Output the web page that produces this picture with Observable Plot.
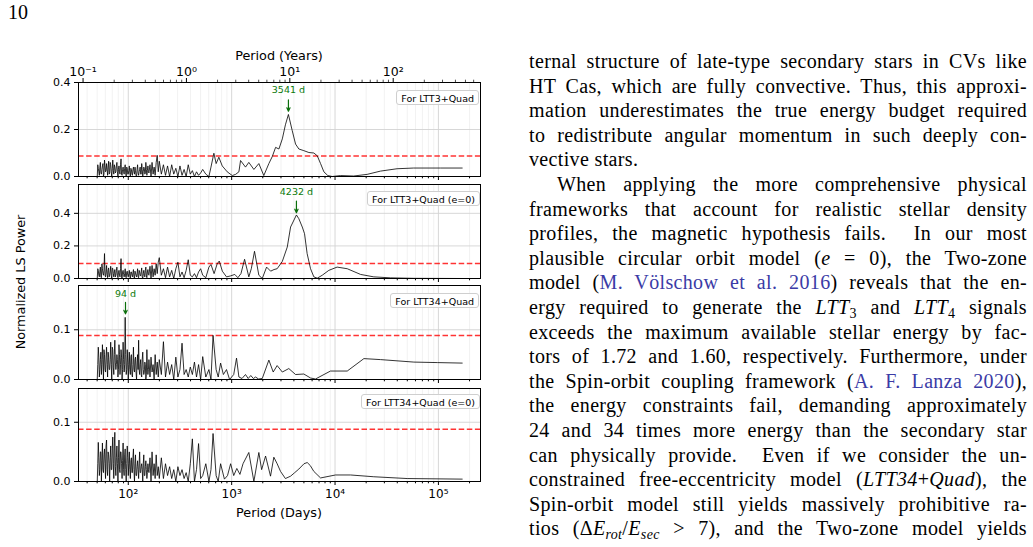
<!DOCTYPE html>
<html><head><meta charset="utf-8">
<script src="https://cdn.jsdelivr.net/npm/d3@7"></script>
<script src="https://cdn.jsdelivr.net/npm/@observablehq/plot@0.6"></script>
<style>
body{margin:0;width:1033px;height:547px;overflow:hidden;background:#fff;position:relative;font-family:"DejaVu Sans",sans-serif;color:#000;}
.panel{position:absolute;left:0;}
.lab{position:absolute;font-family:"DejaVu Sans";font-size:12.8px;white-space:nowrap;}
.leg{position:absolute;font-family:"DejaVu Sans";font-size:9.5px;border:1px solid #cfcfcf;border-radius:3px;background:rgba(255,255,255,0.85);padding:0 4px;height:15px;line-height:15px;white-space:nowrap;box-sizing:border-box;}
#pagenum{position:absolute;left:8px;top:1px;font-family:"Liberation Serif",serif;font-size:20px;}
#text{position:absolute;left:529px;top:49px;width:498px;font-family:"Liberation Serif",serif;font-size:20px;letter-spacing:0.35px;line-height:24.6px;}
#text .l{text-align:justify;text-align-last:justify;white-space:nowrap;height:24.6px;}
#text .last{text-align-last:left;}
#text .ind{padding-left:28px;}
#text a{color:#3b3ba6;text-decoration:none;}
#text sub{font-size:70%;vertical-align:-0.25em;line-height:0;}
</style>
</head><body>
<div id="pagenum">10</div>
<div id="chart"></div>
<div id="text">
<div class="l">ternal structure of late-type secondary stars in CVs like</div>
<div class="l">HT Cas, which are fully convective. Thus, this approxi-</div>
<div class="l">mation underestimates the true energy budget required</div>
<div class="l">to redistribute angular momentum in such deeply con-</div>
<div class="l last">vective stars.</div>
<div class="l ind">When applying the more comprehensive physical</div>
<div class="l">frameworks that account for realistic stellar density</div>
<div class="l">profiles, the magnetic hypothesis fails.&nbsp; In our most</div>
<div class="l">plausible circular orbit model (<i>e</i> = 0), the Two-zone</div>
<div class="l">model (<a>M. Völschow et al. 2016</a>) reveals that the en-</div>
<div class="l">ergy required to generate the <i>LTT</i><sub>3</sub> and <i>LTT</i><sub>4</sub> signals</div>
<div class="l">exceeds the maximum available stellar energy by fac-</div>
<div class="l">tors of 1.72 and 1.60, respectively. Furthermore, under</div>
<div class="l">the Spin-orbit coupling framework (<a>A. F. Lanza 2020</a>),</div>
<div class="l">the energy constraints fail, demanding approximately</div>
<div class="l">24 and 34 times more energy than the secondary star</div>
<div class="l">can physically provide.&nbsp; Even if we consider the un-</div>
<div class="l">constrained free-eccentricity model (<i>LTT34</i>+<i>Quad</i>), the</div>
<div class="l">Spin-orbit model still yields massively prohibitive ra-</div>
<div class="l">tios (Δ<i>E</i><sub><i>rot</i></sub>/<i>E</i><sub><i>sec</i></sub> &gt; 7), and the Two-zone model yields</div>
</div>
<script>
// ---- data (period given as log10 of days) ----
const noiseLogP = [1.70,1.71,1.72,1.73,1.74,1.75,1.76,1.77,1.78,1.79,
  1.80,1.81,1.82,1.83,1.84,1.85,1.86,1.87,1.88,1.89,
  1.90,1.91,1.92,1.93,1.94,1.95,1.96,1.97,1.98,1.99,
  2.00,2.01,2.02,2.03,2.04,2.05,2.06,2.07,2.08,2.09,
  2.10,2.11,2.12,2.13,2.14,2.15,2.16,2.17,2.18,2.19,
  2.20,2.21,2.22,2.23,2.24,2.25,2.26,2.27,2.28,2.29,
  2.30,
  2.32,2.34,2.36,2.38,2.40,2.42,2.44,2.46,2.48,2.50,
  2.52,2.54,2.56,2.58,2.60,2.62,2.64,2.66,2.68,2.70];
const noiseMidLogP = [1.705,1.715,1.725,1.735,1.745,1.755,1.765,1.775,1.785,1.795,
  1.805,1.815,1.825,1.835,1.845,1.855,1.865,1.875,1.885,1.895,
  1.905,1.915,1.925,1.935,1.945,1.955,1.965,1.975,1.985,1.995,
  2.005,2.015,2.025,2.035,2.045,2.055,2.065,2.075,2.085,2.095,
  2.105,2.115,2.125,2.135,2.145,2.155,2.165,2.175,2.185,2.195];

const p1Noise = [0.0,0.035,0.005,0.06,0.01,0.045,0.0,0.07,0.02,0.055,
  0.005,0.065,0.015,0.05,0.0,0.07,0.01,0.04,0.02,0.06,
  0.0,0.045,0.01,0.075,0.005,0.04,0.01,0.05,0.0,0.035,
  0.01,0.045,0.0,0.03,0.005,0.04,0.01,0.025,0.0,0.05,
  0.005,0.03,0.01,0.055,0.0,0.04,0.01,0.06,0.005,0.045,
  0.015,0.05,0.0,0.06,0.01,0.04,0.005,0.06,0.09,0.02,
  0.065,
  0.01,0.05,0.005,0.045,0.0,0.05,0.01,0.035,0.0,0.045,
  0.005,0.03,0.0,0.05,0.01,0.025,0.0,0.02,0.005,0.015];
const p1Mid = [0.05,0.02,0.04,0.015,0.03,0.055,0.01,0.045,0.025,0.03,
  0.04,0.01,0.06,0.02,0.035,0.025,0.05,0.015,0.045,0.02,
  0.03,0.02,0.05,0.01,0.03,0.02,0.035,0.015,0.04,0.01,
  0.025,0.015,0.035,0.01,0.03,0.02,0.04,0.005,0.03,0.015,
  0.02,0.04,0.01,0.03,0.02,0.035,0.015,0.03,0.025,0.02];
const p1LogP = [2.72,2.75,2.78,2.80,2.828,2.85,2.876,2.909,2.957,3.006,3.038,3.07,3.086,3.134,3.166,3.215,3.263,3.311,3.36,3.393,3.425,3.457,3.49,3.52,3.549,3.586,3.618,3.65,3.698,3.747,3.795,3.828,3.86,3.892,3.93,3.973,4.053,4.18,4.31,4.44,4.6,4.76,5.02,5.23];
const p1Pow = [0.03,0.01,0.0,0.04,0.099,0.055,0.082,0.045,0.02,0.004,0.009,0.02,0.068,0.04,0.06,0.03,0.055,0.004,0.055,0.085,0.124,0.117,0.16,0.22,0.264,0.195,0.138,0.117,0.11,0.102,0.10,0.088,0.055,0.02,0.004,0.0,0.004,0.002,0.009,0.023,0.033,0.036,0.036,0.036];

const p2Noise = [0.0,0.05,0.01,0.07,0.005,0.06,0.02,0.153,0.01,0.08,
  0.005,0.065,0.02,0.075,0.0,0.06,0.01,0.055,0.02,0.07,
  0.005,0.05,0.01,0.122,0.0,0.05,0.01,0.06,0.005,0.045,
  0.01,0.05,0.0,0.04,0.01,0.055,0.0,0.035,0.01,0.06,
  0.005,0.04,0.015,0.065,0.0,0.05,0.01,0.07,0.005,0.055,
  0.02,0.075,0.0,0.08,0.01,0.06,0.02,0.09,0.03,0.1,
  0.128,
  0.02,0.06,0.005,0.07,0.01,0.05,0.0,0.06,0.1,0.01,
  0.04,0.005,0.05,0.115,0.02,0.01,0.03,0.005,0.04,0.06];
const p2Mid = [0.06,0.02,0.045,0.01,0.09,0.03,0.05,0.02,0.04,0.025,
  0.05,0.01,0.04,0.02,0.065,0.03,0.04,0.01,0.05,0.02,
  0.035,0.02,0.06,0.01,0.04,0.025,0.03,0.01,0.04,0.02,
  0.03,0.015,0.04,0.02,0.035,0.01,0.045,0.02,0.03,0.01,
  0.05,0.02,0.04,0.01,0.03,0.02,0.05,0.015,0.04,0.025];
const p2LogP = [2.72,2.75,2.78,2.80,2.83,2.86,2.88,2.91,2.95,2.99,3.03,3.06,3.09,3.125,3.166,3.19,3.221,3.263,3.296,3.338,3.377,3.41,3.44,3.49,3.538,3.57,3.6265,3.65,3.683,3.705,3.73,3.763,3.795,3.828,3.876,3.94,4.02,4.118,4.247,4.375,4.537,4.762,5.23];
const p2Pow = [0.02,0.005,0.07,0.086,0.03,0.09,0.107,0.045,0.01,0.016,0.025,0.005,0.03,0.118,0.01,0.06,0.167,0.02,0.0,0.07,0.045,0.055,0.06,0.105,0.193,0.316,0.39,0.367,0.316,0.275,0.153,0.06,0.01,0.002,0.02,0.05,0.07,0.06,0.025,0.01,0.004,0.001,0.0];

const p3Noise = [0.0,0.065,0.005,0.04,0.01,0.07,0.0,0.05,0.015,0.065,
  0.005,0.045,0.02,0.075,0.0,0.06,0.01,0.079,0.02,0.05,
  0.005,0.07,0.01,0.06,0.0,0.075,0.015,0.125,0.01,0.06,
  0.0,0.055,0.01,0.05,0.005,0.065,0.015,0.045,0.0,0.05,
  0.079,0.01,0.04,0.005,0.055,0.01,0.035,0.0,0.06,0.01,
  0.04,0.005,0.045,0.015,0.03,0.0,0.05,0.01,0.035,0.005,
  0.04,
  0.01,0.076,0.005,0.035,0.01,0.03,0.0,0.045,0.005,0.02,
  0.073,0.01,0.02,0.005,0.025,0.01,0.035,0.005,0.03,0.0];
const p3Mid = [0.03,0.045,0.02,0.055,0.03,0.04,0.06,0.02,0.045,0.03,
  0.055,0.02,0.04,0.03,0.065,0.025,0.05,0.035,0.03,0.04,
  0.02,0.05,0.03,0.045,0.02,0.04,0.03,0.05,0.02,0.035,
  0.03,0.02,0.045,0.01,0.03,0.02,0.04,0.015,0.035,0.02,
  0.02,0.03,0.01,0.04,0.02,0.015,0.03,0.01,0.025,0.02];
const p3LogP = [2.72,2.75,2.78,2.80,2.82,2.85,2.87,2.893,2.92,2.95,2.98,3.02,3.047,3.07,3.10,3.134,3.16,3.185,3.21,3.231,3.26,3.296,3.36,3.402,3.44,3.49,3.553,3.618,3.698,3.763,3.811,3.956,4.118,4.279,4.44,4.762,4.99,5.23];
const p3Pow = [0.046,0.005,0.02,0.0,0.0887,0.02,0.005,0.033,0.01,0.02,0.0,0.01,0.043,0.005,0.002,0.01,0.002,0.008,0.002,0.005,0.001,0.002,0.039,0.015,0.028,0.015,0.022,0.01,0.011,0.003,0.001,0.017,0.017,0.042,0.04,0.035,0.034,0.033];

const p4Noise = [0.0,0.066,0.01,0.05,0.0,0.065,0.015,0.055,0.005,0.07,
  0.01,0.045,0.0,0.06,0.02,0.075,0.005,0.083,0.01,0.06,
  0.0,0.07,0.015,0.05,0.005,0.065,0.01,0.055,0.0,0.06,
  0.01,0.05,0.005,0.04,0.015,0.055,0.0,0.045,0.01,0.035,
  0.005,0.05,0.015,0.03,0.0,0.045,0.01,0.035,0.005,0.03,
  0.015,0.04,0.0,0.05,0.01,0.03,0.005,0.045,0.01,0.025,
  0.005,
  0.04,0.005,0.03,0.01,0.025,0.005,0.02,0.0,0.025,0.01,
  0.02,0.005,0.015,0.0,0.03,0.072,0.0,0.02,0.064,0.005];
const p4Mid = [0.03,0.04,0.02,0.05,0.035,0.02,0.045,0.03,0.06,0.02,
  0.05,0.03,0.04,0.02,0.055,0.03,0.06,0.025,0.04,0.03,
  0.04,0.02,0.05,0.03,0.035,0.02,0.045,0.02,0.03,0.04,
  0.03,0.02,0.035,0.015,0.04,0.02,0.03,0.01,0.025,0.02,
  0.03,0.015,0.025,0.02,0.03,0.01,0.025,0.02,0.015,0.02];
const p4LogP = [2.72,2.75,2.78,2.80,2.82,2.85,2.87,2.893,2.93,2.96,2.99,3.02,3.05,3.08,3.11,3.166,3.215,3.263,3.29,3.328,3.376,3.408,3.44,3.473,3.52,3.57,3.61,3.65,3.70,3.731,3.76,3.795,3.86,4.005,4.15,4.375,4.698,5.23];
const p4Pow = [0.01,0.03,0.0,0.02,0.081,0.01,0.0,0.03,0.004,0.01,0.03,0.01,0.022,0.012,0.03,0.049,0.0,0.049,0.02,0.043,0.009,0.041,0.03,0.017,0.005,0.009,0.015,0.021,0.03,0.032,0.027,0.017,0.006,0.011,0.011,0.008,0.005,0.004];

const panelLabels = ["For LTT3+Quad", "For LTT3+Quad (e=0)", "For LTT34+Quad", "For LTT34+Quad (e=0)"];
const fapLevels = [0.087, 0.092, 0.0886, 0.088];
const yMax = [0.4, 0.577, 0.189, 0.157];
const yTicks = [[0, 0.2, 0.4], [0, 0.2, 0.4], [0, 0.1], [0, 0.1]];
const peakDays = [3541, 4232, 94];
const peakText = ["3541 d", "4232 d", "94 d"];
const peakTextY = [0.369, 0.534, 0.173];
const peakArrowFrom = [0.326, 0.475, 0.155];
const peakArrowTo = [0.278, 0.404, 0.132];
const dayTicks = [100, 1000, 10000, 100000];
const yearTicks = [0.1, 1, 10, 100];
const daysPerYear = 365.25;

// ---- build ----
const xDomain = [33.0, 255300];
const inDom = v => v >= xDomain[0] && v <= xDomain[1];
const sup = {"-1":"⁻¹","0":"⁰","1":"¹","2":"²","3":"³","4":"⁴","5":"⁵"};
const minorDays = [];
for (const dec of [10, 100, 1000, 10000, 100000]) for (let m = 2; m <= 9; m++) if (inDom(m*dec)) minorDays.push(m*dec);
const yearMajorDays = yearTicks.map(y => y*daysPerYear);
const yearMinorDays = [];
for (const y of yearTicks) for (let m = 2; m <= 9; m++) { const d = m*y*daysPerYear; if (inDom(d)) yearMinorDays.push(d); }
const bottomFmt = d => "10" + sup[String(Math.round(Math.log10(d)))];
const topFmt = d => "10" + sup[String(Math.round(Math.log10(d/daysPerYear)))];

function series(noise, mid, logP, pow) {
  const pts = noiseLogP.map((l, i) => ({lp: l, power: noise[i]}))
    .concat(noiseMidLogP.map((l, i) => ({lp: l, power: mid[i]})))
    .concat(logP.map((l, i) => ({lp: l, power: pow[i]})));
  pts.sort((a, b) => a.lp - b.lp);
  return pts.map(p => ({period: 10**p.lp, power: p.power}));
}
const allSeries = [
  series(p1Noise, p1Mid, p1LogP, p1Pow), series(p2Noise, p2Mid, p2LogP, p2Pow),
  series(p3Noise, p3Mid, p3LogP, p3Pow), series(p4Noise, p4Mid, p4LogP, p4Pow)
];
const frameTops = [82, 184, 285, 388];
const frameH = [94, 94, 94, 93];
const legendPos = [{top: 90, right: 554}, {top: 191, right: 553}, {top: 292.5, right: 554}, {top: 394, right: 553}];

const chart = document.getElementById("chart");
allSeries.forEach((data, k) => {
  const first = k === 0, last = k === 3;
  const mt = first ? 45 : 2, mb = last ? 45 : 8;
  const marks = [
    Plot.ruleX(minorDays, {stroke: "#ececec", strokeWidth: 0.7}),
    Plot.ruleX(dayTicks.filter(inDom), {stroke: "#d2d2d2", strokeWidth: 0.9}),
    Plot.ruleY(yTicks[k], {stroke: "#d2d2d2", strokeWidth: 0.9}),
    Plot.ruleY([fapLevels[k]], {stroke: "#ff0000", strokeOpacity: 0.8, strokeWidth: 1.5, strokeDasharray: "5.5,2.6"}),
    Plot.line(data, {x: "period", y: "power", stroke: "black", strokeWidth: 0.8}),
    Plot.frame({stroke: "black", strokeWidth: 1}),
    Plot.axisY({ticks: yTicks[k], tickFormat: d3.format(".1f"), tickSize: 4, tickPadding: 4, label: null, fontSize: 11}),
    Plot.axisX({anchor: "bottom", ticks: dayTicks, tickSize: 4, tickPadding: 4, tickFormat: last ? bottomFmt : () => "", label: null, fontSize: 12}),
    Plot.axisX({anchor: "bottom", ticks: minorDays, tickSize: 2.3, tickFormat: () => "", label: null})
  ];
  if (first) {
    const ym = yMax[k];
    marks.push(
      Plot.ruleX(yearMajorDays, {x: d => d, y1: ym, y2: ym * (1 + 4 / frameH[k]), stroke: "black", strokeWidth: 1}),
      Plot.ruleX(yearMinorDays, {x: d => d, y1: ym, y2: ym * (1 + 2.3 / frameH[k]), stroke: "black", strokeWidth: 0.7}),
      Plot.text(yearMajorDays, {x: d => d, y: () => ym, dy: -7, lineAnchor: "bottom", text: topFmt, fontSize: 12.5, fill: "black"})
    );
  }
  if (k < 3) {
    const a = [{x: peakDays[k], ty: peakTextY[k], y1: peakArrowFrom[k], y2: peakArrowTo[k], t: peakText[k]}];
    marks.push(
      Plot.text(a, {x: "x", y: "ty", text: "t", fill: "#0b7a0b", fontSize: 9.5}),
      Plot.arrow(a, {x1: "x", x2: "x", y1: "y1", y2: "y2", stroke: "#0b6e0b", strokeWidth: 1.2, headLength: 5, headAngle: 50})
    );
  }
  const svg = Plot.plot({
    width: 490, height: mt + frameH[k] + mb,
    marginLeft: 78, marginRight: 10, marginTop: mt, marginBottom: mb,
    style: {fontFamily: "DejaVu Sans", fontSize: "11px", background: "transparent", color: "black", overflow: "visible"},
    x: {type: "log", domain: xDomain},
    y: {domain: [0, yMax[k]]},
    marks
  });
  svg.classList.add("panel");
  svg.style.top = (frameTops[k] - mt) + "px";
  chart.appendChild(svg);
  const lg = document.createElement("div");
  lg.className = "leg";
  lg.textContent = panelLabels[k];
  lg.style.top = legendPos[k].top + "px";
  lg.style.right = legendPos[k].right + "px";
  chart.appendChild(lg);
});

function label(text, x, y, rot) {
  const d = document.createElement("div");
  d.className = "lab";
  d.textContent = text;
  d.style.left = x + "px"; d.style.top = y + "px";
  d.style.transform = "translate(-50%,-50%)" + (rot ? " rotate(-90deg)" : "");
  chart.appendChild(d);
}
label("Period (Years)", 279, 55, false);
label("Period (Days)", 279, 512, false);
label("Normalized LS Power", 20, 282, true);
</script>
</body></html>
